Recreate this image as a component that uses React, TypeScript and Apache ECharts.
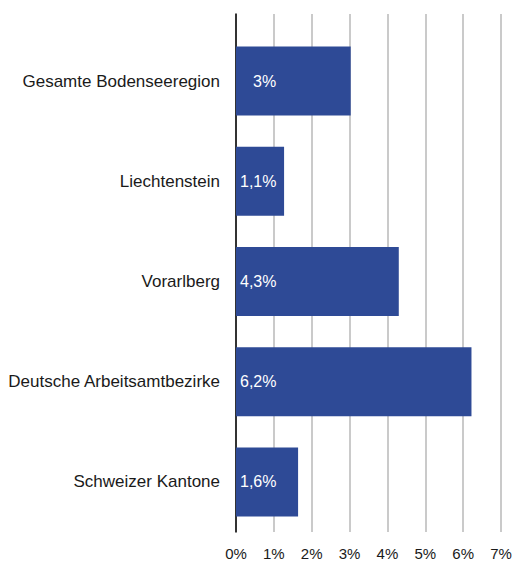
import React, { useEffect, useRef } from "react";
import * as echarts from "echarts";

const categories = [
  "Gesamte Bodenseeregion",
  "Liechtenstein",
  "Vorarlberg",
  "Deutsche Arbeitsamtbezirke",
  "Schweizer Kantone",
];
const values = [3.03, 1.27, 4.3, 6.22, 1.64];
const valueLabels = ["3%", "1,1%", "4,3%", "6,2%", "1,6%"];
const xTicks = [0, 1, 2, 3, 4, 5, 6, 7];

export default function App() {
  const ref = useRef<HTMLDivElement>(null);
  useEffect(() => {
    if (!ref.current) return;
    const chart = echarts.init(ref.current, null, { renderer: "svg" });
    const font = "'Liberation Sans', Arial, sans-serif";
    chart.setOption({
      animation: false,
      grid: [
        { left: 236, right: 21, top: 31, height: 501 },
        { left: 236, right: 21, top: 14, bottom: 29 },
      ],
      xAxis: [
        {
          gridIndex: 0,
          type: "value",
          min: 0,
          max: 7,
          interval: 1,
          axisLine: { show: false },
          axisTick: { show: false },
          axisLabel: { show: false },
          splitLine: { show: false },
        },
        {
          gridIndex: 1,
          type: "value",
          min: xTicks[0],
          max: xTicks[xTicks.length - 1],
          interval: 1,
          axisLine: { show: false },
          axisTick: { show: false },
          axisLabel: {
            margin: 14,
            fontSize: 15,
            fontFamily: font,
            color: "#1a1a1a",
            formatter: (v: number) => `${v}%`,
          },
          splitLine: { show: true, lineStyle: { color: "#b8b8b8", width: 1.5 } },
        },
      ],
      yAxis: [
        {
          gridIndex: 0,
          type: "category",
          inverse: true,
          data: categories,
          axisLine: { show: false },
          axisTick: { show: false },
          axisLabel: {
            margin: 16,
            fontSize: 17,
            fontFamily: font,
            color: "#1a1a1a",
          },
        },
        {
          gridIndex: 1,
          type: "value",
          min: 0,
          max: 1,
          axisLine: { show: true, lineStyle: { color: "#000", width: 1.5 } },
          axisTick: { show: false },
          axisLabel: { show: false },
          splitLine: { show: false },
        },
      ],
      series: [
        {
          type: "bar",
          xAxisIndex: 0,
          yAxisIndex: 0,
          barWidth: 69,
          z: 3,
          itemStyle: { color: "#2E4A96" },
          data: values.map((v, i) => ({
            value: v,
            label: i === 0 ? { offset: [13, 0] } : undefined,
          })),
          label: {
            show: true,
            position: "insideLeft",
            distance: 4,
            color: "#fff",
            fontSize: 16,
            fontFamily: font,
            formatter: (p: any) => valueLabels[p.dataIndex],
          },
        },
      ],
    });
    return () => chart.dispose();
  }, []);
  return <div ref={ref} style={{ width: 522, height: 561, position: "absolute", left: 0, top: 0 }} />;
}
